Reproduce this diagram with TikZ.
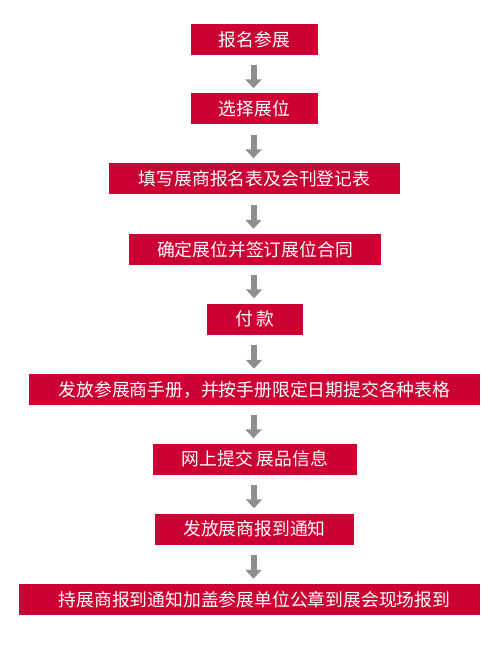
\documentclass[tikz,border=0pt]{standalone}
\usepackage{fontspec}
\setmainfont{Noto Sans CJK SC}
\usetikzlibrary{arrows.meta}
\definecolor{boxred}{HTML}{CC0033}
\definecolor{arrowgray}{HTML}{8E8E8E}

\begin{document}
\begin{tikzpicture}[x=1pt, y=-1pt,
    stage/.style={fill=boxred, text=white, inner sep=0pt, minimum height=31pt,
      font=\fontsize{17.8}{20}\selectfont},
    flow/.style={draw=arrowgray, line width=6pt,
      -{Triangle[width=16pt, length=9pt]}, shorten <=10pt, shorten >=5pt}]
  \useasboundingbox (0,0) rectangle (498,652);
  \node[stage, minimum width=127pt] (s1) at (254.5,39.5) {报名参展};
  \node[stage, minimum width=127pt] (s2) at (254.5,109) {选择展位};
  \node[stage, minimum width=291pt] (s3) at (254.5,179) {填写展商报名表及会刊登记表};
  \node[stage, minimum width=252pt] (s4) at (255,249.5) {确定展位并签订展位合同};
  \node[stage, minimum width=96pt]  (s5) at (255,319) {付 款};
  \node[stage, minimum width=451pt] (s6) at (254.5,389.5) {发放参展商手册，并按手册限定日期提交各种表格};
  \node[stage, minimum width=204pt] (s7) at (255,459) {网上提交 展品信息};
  \node[stage, minimum width=199pt] (s8) at (254.5,529) {发放展商报到通知};
  \node[stage, minimum width=461pt] (s9) at (249.5,599.5) {\hspace*{10pt}持展商报到通知加盖参展单位公章到展会现场报到};
  \foreach \i [count=\j from 2] in {1,...,8}
    \draw[flow] ([xshift=-1pt]s\i.south) -- ([xshift=-1pt]s\i.south |- s\j.north);
\end{tikzpicture}
\end{document}
